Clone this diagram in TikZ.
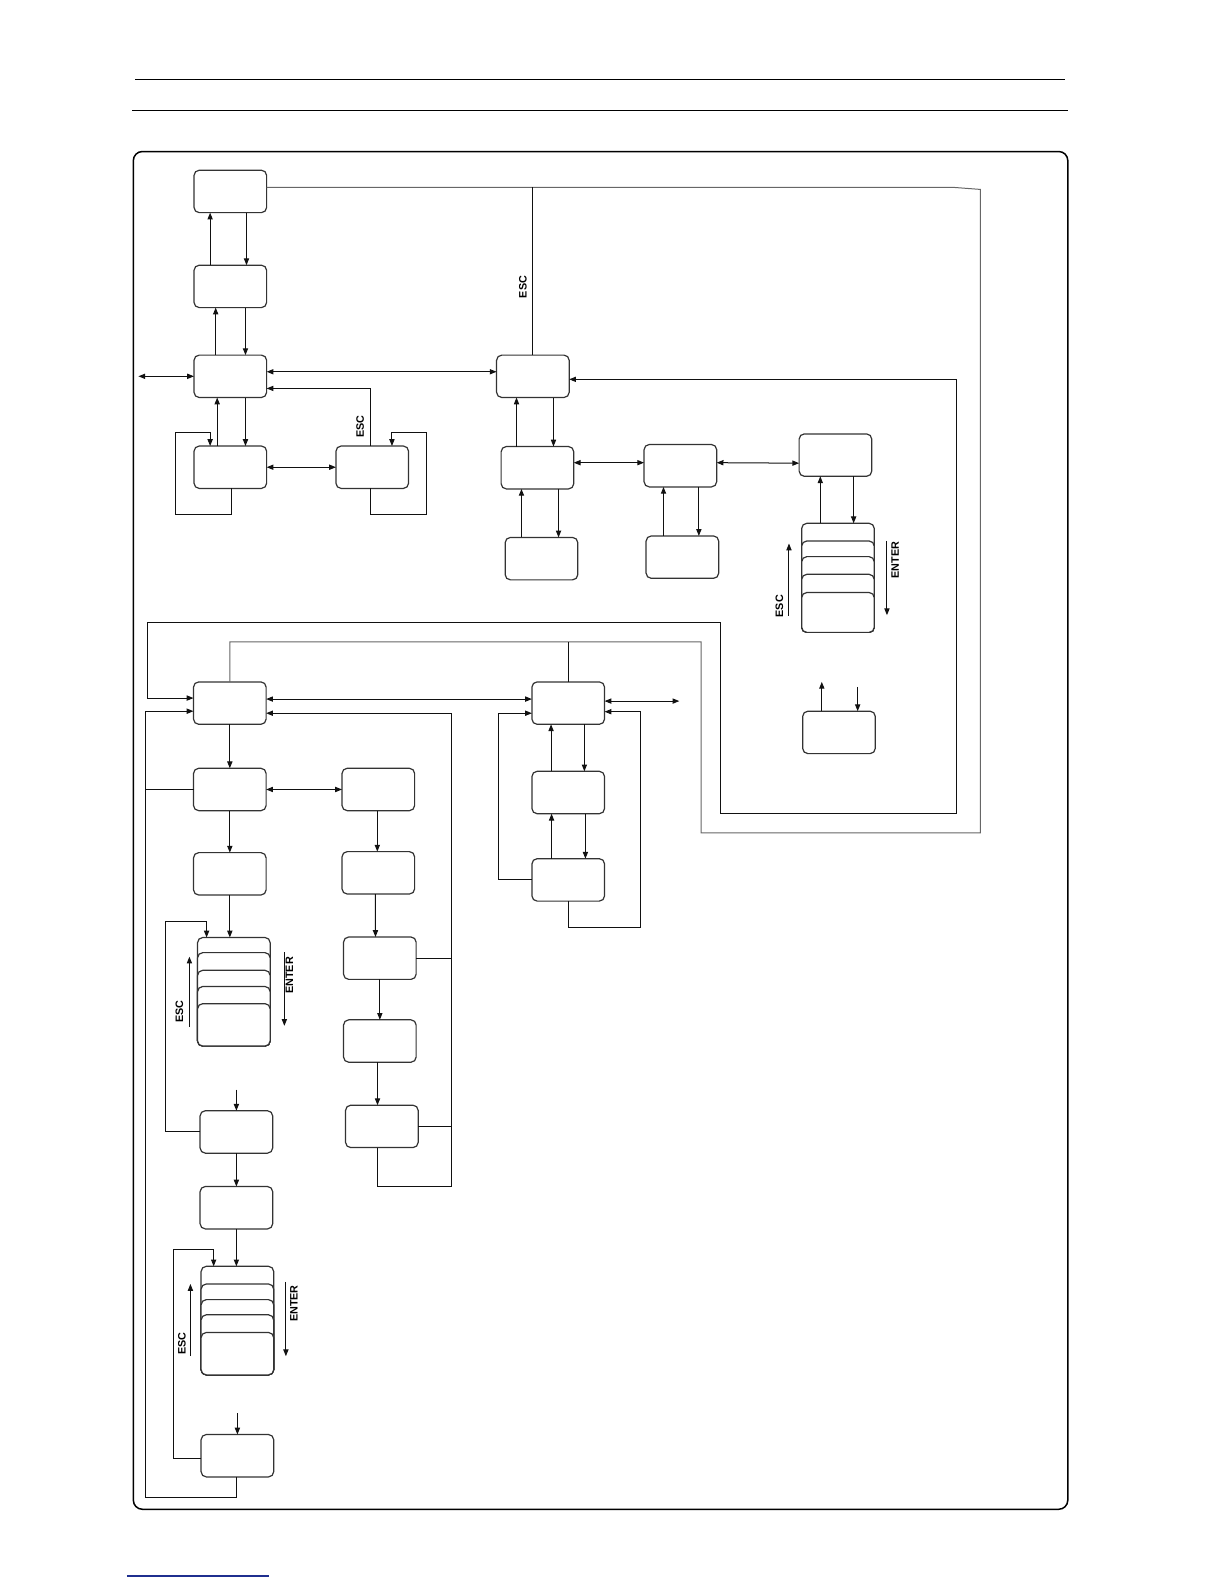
\documentclass[tikz,border=0pt]{standalone}
\usepackage{fontspec}
\setsansfont{Liberation Sans}
\usetikzlibrary{arrows.meta, calc}
\definecolor{cline}{HTML}{111111}
\definecolor{cgrey}{HTML}{666666}
\definecolor{cnavy}{HTML}{1F2F8F}
\tikzset{
  every picture/.style={x=0.505pt, y=-0.505pt, line width=0.5pt},
  box/.style={draw=black!80, fill=white, rectangle, rounded corners=2.6pt,
    minimum width=36.3pt, minimum height=21.2pt, inner sep=0pt, outer sep=0pt, line width=0.6pt},
  arrow/.style={-{Triangle[length=3.4pt, width=2.6pt]}, draw=cline},
  twoway/.style={{Triangle[length=3.4pt, width=2.6pt]}-{Triangle[length=3.4pt, width=2.6pt]}, draw=cline},
  wire/.style={draw=cline},
  keylbl/.style={font=\sffamily\bfseries\fontsize{5.4}{6}\selectfont, rotate=90, inner sep=0pt},
}

\begin{document}
\begin{tikzpicture}
  \useasboundingbox (0,0) rectangle (1212,1568);
  % page rules and frame
  \draw[line width=0.6pt] (134,78.5) -- (1054.5,78.5);
  \draw[line width=0.6pt] (131,109) -- (1057.5,109);
  \draw[line width=0.75pt, rounded corners=4.5pt] (132,150) rectangle (1057,1494);
  \draw[cnavy, line width=0.7pt] (125.5,1560) -- (266.5,1560);

  % upper left group
  \node[box] (a0) at (228,189.5) {};
  \node[box] (a1) at (228,283.5) {};
  \node[box] (a2) at (228,372.5) {};
  \node[box] (a3) at (228,462.5) {};
  \node[box] (a4) at (368.5,462.5) {};
  % upper right group
  \node[box] (b0) at (527.5,372.5) {};
  \node[box] (b1) at (532,463) {};
  \node[box] (b2) at (673.5,461) {};
  \node[box] (b3) at (827,450.5) {};
  \node[box] (b4) at (536,553) {};
  \node[box] (b5) at (675.5,551.5) {};
  \foreach \t [count=\i] in {518,535.5,551,568.5,586.5}
    \node[box, anchor=north, minimum height={(626-\t)*0.505pt}] (b6-\i) at (829.5,\t) {};
  \node[box] (f0) at (830.5,725) {};
  % lower left column
  \node[box] (c0) at (227.5,696) {};
  \node[box] (c1) at (227.5,781.5) {};
  \node[box] (c2) at (227.5,865) {};
  \foreach \t [count=\i] in {928,943,960.5,976.5,993.5}
    \node[box, anchor=north, minimum height={(1035.5-\t)*0.505pt}] (c3-\i) at (231.5,\t) {};
  \node[box] (c4) at (234,1120.5) {};
  \node[box] (c5) at (234,1195.5) {};
  \foreach \t [count=\i] in {1253.5,1271,1286.5,1301.5,1319}
    \node[box, anchor=north, minimum height={(1361-\t)*0.505pt}] (c6-\i) at (235,\t) {};
  \node[box] (c7) at (235,1441) {};
  % lower middle column
  \node[box] (d0) at (374.5,781.5) {};
  \node[box] (d1) at (374.5,864) {};
  \node[box] (d2) at (376,948.5) {};
  \node[box] (d3) at (376,1030.5) {};
  \node[box] (d4) at (378,1115) {};
  % lower right column
  \node[box] (e0) at (562.5,696) {};
  \node[box] (e1) at (562.5,784.5) {};
  \node[box] (e2) at (562.5,871) {};

  % free ends
  \coordinate (a2in) at (137,372.5);
  \coordinate (e0out) at (672.5,694);
  \coordinate (f0up) at (813.5,675);
  \coordinate (f0dn) at (849,680);
  \coordinate (c4in) at (234,1078.5);
  \coordinate (c7in) at (235,1399);
  \coordinate (tr) at (944,185.5);
  \coordinate (ob) at (694,635.5);
  \coordinate (lb) at (144.5,1482);
  \coordinate (rb) at (446.5,1174.5);

  % upper left connectors
  \draw[arrow] ($(a1.north)+(-20,0)$) -- ($(a0.south)+(-20,0)$);
  \draw[arrow] ($(a0.south)+(16,0)$) -- ($(a1.north)+(16,0)$);
  \draw[arrow] ($(a2.north)+(-14.5,0)$) -- ($(a1.south)+(-14.5,0)$);
  \draw[arrow] ($(a1.south)+(15,0)$) -- ($(a2.north)+(15,0)$);
  \draw[arrow] ($(a3.north)+(-13,0)$) -- ($(a2.south)+(-13,0)$);
  \draw[arrow] ($(a2.south)+(15,0)$) -- ($(a3.north)+(15,0)$);
  \draw[twoway] (a2in) -- (a2.west);
  \draw[twoway] ($(a2.east)+(0,-4.5)$) -- ($(b0.west)+(0,-4.5)$);
  \draw[arrow] ($(a4.north)+(-2,0)$) |- ($(a2.east)+(0,12)$);
  \node[keylbl] (aesc) at (356.5,422.5) {ESC};
  \draw[twoway] (a3.east) -- (a4.west);
  \draw[arrow] ($(a3.south)+(1,0)$) -- ++(0,25.5) -| (173.5,428.5) -| ($(a3.north)+(-20,0)$);
  \draw[arrow] ($(a4.south)+(-2,0)$) -- ++(0,25.5) -| (422,428.5) -| ($(a4.north)+(19.5,0)$);

  % long loops
  \draw[draw=cgrey] ($(a0.east)+(0,-4)$) -- (tr) -- (970.5,187.5) |- (694,824.5) -- (ob) -| (c0.north);
  \draw[wire] (b0.north) -- (b0.north |- tr);
  \node[keylbl] (besc) at (517.5,284) {ESC};
  \draw[wire] (e0.north) -- (e0.north |- ob);
  \draw[twoway] ($(b0.east)+(0,3)$) -| (946.5,805) -| (713.5,616.5) -| (146.5,691) -- ($(c0.west)+(0,-5)$);

  % upper right connectors
  \draw[arrow] ($(b1.north)+(-20.7,0)$) -- ($(b0.south)+(-16.2,0)$);
  \draw[arrow] ($(b0.south)+(20.4,0)$) -- ($(b1.north)+(15.9,0)$);
  \draw[twoway] ($(b1.east)+(0,-5)$) -- ($(b2.west)+(0,-3)$);
  \draw[twoway] ($(b2.east)+(0,-3)$) -- ($(b3.west)+(0,8)$);
  \draw[arrow] ($(b4.north)+(-19.8,0)$) -- ($(b1.south)+(-15.8,0)$);
  \draw[arrow] ($(b1.south)+(20.9,0)$) -- ($(b4.north)+(16.9,0)$);
  \draw[arrow] ($(b5.north)+(-18.7,0)$) -- ($(b2.south)+(-16.7,0)$);
  \draw[arrow] ($(b2.south)+(18.3,0)$) -- ($(b5.north)+(16.3,0)$);
  \draw[arrow] ($(b6-1.north)+(-17.5,0)$) -- ($(b3.south)+(-15,0)$);
  \draw[arrow] ($(b3.south)+(18,0)$) -- ($(b6-1.north)+(15.5,0)$);
  \coordinate (bu0) at (781,609.5); \coordinate (bu1) at (781,538);
  \coordinate (bd0) at (878,535.5); \coordinate (bd1) at (878,609);
  \draw[arrow] (bu0) -- (bu1);
  \draw[arrow] (bd0) -- (bd1);
  \node[keylbl] (b6esc) at (771.5,600) {ESC};
  \node[keylbl] (b6ent) at (886,554.5) {ENTER};
  \draw[arrow] ($(f0.north)+(-17,0)$) -- (f0up);
  \draw[arrow] (f0dn) -- ($(f0.north)+(18.5,0)$);

  % lower left connectors
  \draw[arrow] ($(c7.south)+(-1,0)$) |- (lb) |- ($(c0.west)+(0,8)$);
  \draw[wire] (c1.west) -- (c1.west -| lb);
  \draw[twoway] ($(c0.east)+(0,-4)$) -- ($(e0.west)+(0,-4)$);
  \draw[arrow] (c0.south) -- (c1.north);
  \draw[twoway] (c1.east) -- (d0.west);
  \draw[arrow] (c1.south) -- (c2.north);
  \draw[arrow] (c2.south) -- ($(c3-1.north)+(-4,0)$);
  \draw[arrow] (c4.west) -| (164,912) -| ($(c3-1.north)+(-27,0)$);
  \coordinate (cu0) at (187.5,1016.5); \coordinate (cu1) at (187.5,947);
  \coordinate (cd0) at (281.5,942.5); \coordinate (cd1) at (281.5,1015.5);
  \draw[arrow] (cu0) -- (cu1);
  \draw[arrow] (cd0) -- (cd1);
  \node[keylbl] (c3esc) at (177.5,1001.5) {ESC};
  \node[keylbl] (c3ent) at (286.5,965.5) {ENTER};
  \draw[arrow] (c4in) -- (c4.north);
  \draw[arrow] (c4.south) -- (c5.north);
  \draw[arrow] (c5.south) -- ($(c6-1.north)+(-1,0)$);
  \draw[arrow] ($(c7.west)+(0,2.5)$) -| (171.5,1237) -| ($(c6-1.north)+(-23.5,0)$);
  \coordinate (gu0) at (188.5,1342.5); \coordinate (gu1) at (188.5,1271);
  \coordinate (gd0) at (283,1269); \coordinate (gd1) at (283,1342.5);
  \draw[arrow] (gu0) -- (gu1);
  \draw[arrow] (gd0) -- (gd1);
  \node[keylbl] (c6esc) at (180,1330) {ESC};
  \node[keylbl] (c6ent) at (291,1290.5) {ENTER};
  \draw[arrow] (c7in) -- (c7.north);

  % lower middle connectors
  \draw[arrow] ($(d0.south)+(-1,0)$) -- ($(d1.north)+(-1,0)$);
  \draw[arrow] ($(d1.south)+(-3,0)$) -- ($(d2.north)+(-4.3,0)$);
  \draw[arrow] (d2.south) -- (d3.north);
  \draw[arrow] ($(d3.south)+(-2.3,0)$) -- ($(d4.north)+(-4.3,0)$);
  \draw[arrow] ($(d4.south)+(-4,0)$) |- (rb) |- ($(c0.east)+(0,10)$);
  \draw[wire] (d2.east) -- (d2.east -| rb);
  \draw[wire] (d4.east) -- (d4.east -| rb);

  % lower right connectors
  \draw[arrow] ($(e1.north)+(-17,0)$) -- ($(e0.south)+(-17,0)$);
  \draw[arrow] ($(e0.south)+(16,0)$) -- ($(e1.north)+(16,0)$);
  \draw[arrow] ($(e2.north)+(-16.5,0)$) -- ($(e1.south)+(-16.5,0)$);
  \draw[arrow] ($(e1.south)+(17,0)$) -- ($(e2.north)+(17,0)$);
  \draw[arrow] (e2.west) -| (493.5,706) -- ($(e0.west)+(0,10)$);
  \draw[arrow] (e2.south) |- (634.5,918.5) |- ($(e0.east)+(0,8.5)$);
  \draw[twoway] ($(e0.east)+(0,-2)$) -- (e0out);
\end{tikzpicture}
\end{document}
